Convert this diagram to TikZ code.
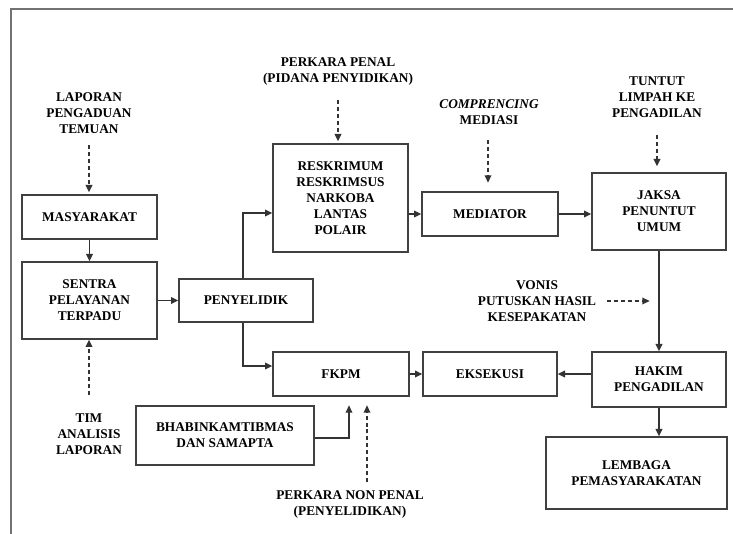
\documentclass[tikz,border=0pt]{standalone}
\usepackage{fontspec}
\setmainfont{Liberation Serif}
\usetikzlibrary{arrows.meta}
\begin{document}
\begin{tikzpicture}[x=0.75pt,y=-0.75pt,
  blk/.style 2 args={draw=black!75, line width=1pt, minimum width=#1*0.75pt,
    minimum height=#2*0.75pt, inner sep=0pt, align=center, font=\bfseries, fill=white},
  lbl/.style={align=center, font=\bfseries, inner sep=0pt},
  arr/.style={draw=black!80, line width=1pt, -{Triangle[length=5.5pt,width=5pt]}},
  dasharr/.style={arr, dash pattern=on 3pt off 2.2pt}
]
\useasboundingbox (0,0) rectangle (733,534);
% page corner rule
\draw[black!55, line width=1.1pt] (11,534) -- (11,9) -- (733,9);

% process boxes
\node[blk={135}{44}]  (mas)   at (89.5,217)   {MASYARAKAT};
\node[blk={135}{77}]  (sentra) at (89.5,300.5) {SENTRA\\PELAYANAN\\TERPADU};
\node[blk={134}{43}]  (peny)  at (246,300.5)  {PENYELIDIK};
\node[blk={135}{108}] (resk)  at (340.5,198)  {RESKRIMUM\\RESKRIMSUS\\NARKOBA\\LANTAS\\POLAIR};
\node[blk={136}{44}]  (med)   at (490,214)    {MEDIATOR};
\node[blk={134}{77}]  (jaksa) at (659,211.5)  {JAKSA\\PENUNTUT\\UMUM};
\node[blk={134}{55}]  (hakim) at (659,379.5)  {HAKIM\\PENGADILAN};
\node[blk={134}{44}]  (eks)   at (490,374)    {EKSEKUSI};
\node[blk={136}{44}]  (fkpm)  at (341,374)    {FKPM};
\node[blk={178}{59}]  (bhab)  at (225,435.5)  {BHABINKAMTIBMAS\\DAN SAMAPTA};
\node[blk={181}{72}]  (lemb)  at (636.5,473)  {LEMBAGA\\PEMASYARAKATAN};

% free-standing labels
\node[lbl] (lapor)  at (89,113)  {LAPORAN\\PENGADUAN\\TEMUAN};
\node[lbl] (tim)    at (89,434)  {TIM\\ANALISIS\\LAPORAN};
\node[lbl] (pidana) at (338,72)  {PERKARA PENAL\\(PIDANA PENYIDIKAN)};
\node[lbl] (compr)  at (489,112) {\textit{COMPRENCING}\\MEDIASI};
\node[lbl] (tuntut) at (657,97)  {TUNTUT\\LIMPAH KE\\PENGADILAN};
\node[lbl] (vonis)  at (537,301) {VONIS\\PUTUSKAN HASIL\\KESEPAKATAN};
\node[lbl] (nonpen) at (350,505) {PERKARA NON PENAL\\(PENYELIDIKAN)};

% start points of the dashed arrows
\coordinate (lapT) at (89,145);
\coordinate (timT) at (89,395);
\coordinate (pidT) at (338,100);
\coordinate (comT) at (488,140);
\coordinate (tunT) at (657,135);
\coordinate (vonT) at (607,301);
\coordinate (nonT) at (367,482);

% solid flow
\draw[arr] (mas) -- (sentra);
\draw[arr] (sentra) -- (peny);
\draw[arr] ([xshift=-2.25pt]peny.north) |- ([yshift=-11.25pt]resk.west);
\draw[arr] ([xshift=-2.25pt]peny.south) |- ([yshift=6pt]fkpm.west);
\draw[arr] (resk.east |- med) -- (med.west);
\draw[arr] (med.east) -- (med.east -| jaksa.west);
\draw[arr] (jaksa) -- (hakim);
\draw[arr] (hakim.west |- eks) -- (eks.east);
\draw[arr] (fkpm) -- (eks);
\draw[arr] (hakim.south) -- (hakim.south |- lemb.north);
\draw[arr, shorten >=6.5pt] ([yshift=-2pt]bhab.east) -| ([xshift=6pt]fkpm.south);

% dashed inputs
\draw[dasharr, shorten >=1.5pt] (lapT) -- (lapT |- mas.north);
\draw[dasharr] (timT) -- (timT |- sentra.south);
\draw[dasharr, shorten >=1.5pt] (pidT) -- (pidT |- resk.north);
\draw[dasharr, shorten >=6.5pt] (comT) -- (comT |- med.north);
\draw[dasharr, shorten >=4.5pt] (tunT) -- (tunT |- jaksa.north);
\draw[dasharr, shorten >=7pt] (vonT) -- (vonT -| jaksa);
\draw[dasharr, shorten >=6.5pt] (nonT) -- (nonT |- fkpm.south);
\end{tikzpicture}
\end{document}
